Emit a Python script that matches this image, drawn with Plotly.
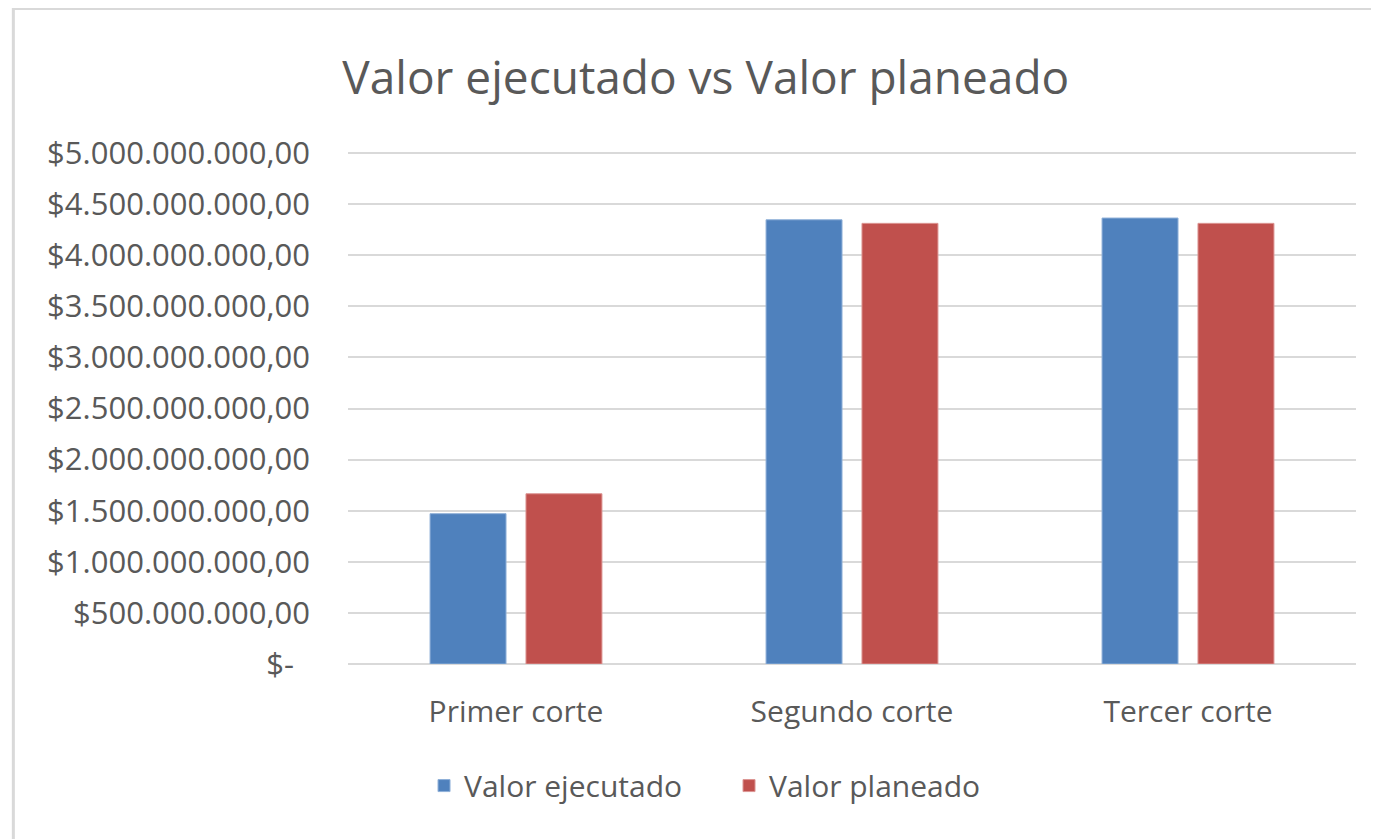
import plotly.graph_objs as go

categorias = ['Primer corte', 'Segundo corte', 'Tercer corte']
valor_ejecutado = [1471000000, 4347000000, 4364000000]
valor_planeado = [1666000000, 4312000000, 4312000000]

tick_vals = [0, 500000000, 1000000000, 1500000000, 2000000000, 2500000000,
             3000000000, 3500000000, 4000000000, 4500000000, 5000000000]
tick_text = ['$-  ', '$500.000.000,00', '$1.000.000.000,00', '$1.500.000.000,00',
             '$2.000.000.000,00', '$2.500.000.000,00', '$3.000.000.000,00',
             '$3.500.000.000,00', '$4.000.000.000,00', '$4.500.000.000,00',
             '$5.000.000.000,00']

texto = '#595959'
fuente = 'Open Sans, Noto Sans, sans-serif'

trace0 = go.Bar(
    x=categorias,
    y=valor_ejecutado,
    name='Valor ejecutado',
    marker=dict(color='#4f81bd', line=dict(color='#8fb0d8', width=1))
)
trace1 = go.Bar(
    x=categorias,
    y=valor_planeado,
    name='Valor planeado',
    marker=dict(color='#c0504d', line=dict(color='#dc9593', width=1))
)

layout = go.Layout(
    title=dict(text='Valor ejecutado vs Valor planeado', x=0.506, xanchor='center',
               y=0.9166, yanchor='middle',
               font=dict(family=fuente, size=46, color=texto)),
    width=1379, height=839,
    margin=dict(l=340, r=31, t=143, b=183),
    paper_bgcolor='white', plot_bgcolor='white',
    font=dict(family=fuente, size=30, color=texto),
    bargap=0.429, bargroupgap=0.208,
    xaxis=dict(showgrid=False, showline=False, ticks='', ticklabelstandoff=27,
               tickfont=dict(size=30, color=texto)),
    yaxis=dict(range=[0, 5020000000], tickvals=tick_vals, ticktext=tick_text,
               showgrid=True, gridcolor='#d9d9d9', gridwidth=2,
               zeroline=True, zerolinecolor='#d9d9d9', zerolinewidth=2,
               ticks='', ticklen=0, ticklabelstandoff=37,
               tickfont=dict(size=31, color=texto)),
    legend=dict(orientation='h', x=0.378, xanchor='center', y=-0.237, yanchor='middle',
                font=dict(size=30, color=texto), traceorder='normal',
                entrywidth=260, entrywidthmode='pixels'),
    shapes=[dict(type='rect', xref='paper', yref='paper', x0=-0.332, x1=1.2, y0=-0.5,
                 y1=1.278, line=dict(color='#d9d9d9', width=3), layer='below')]
)

fig = go.Figure(data=[trace0, trace1], layout=layout)
fig.write_html('out.html')
